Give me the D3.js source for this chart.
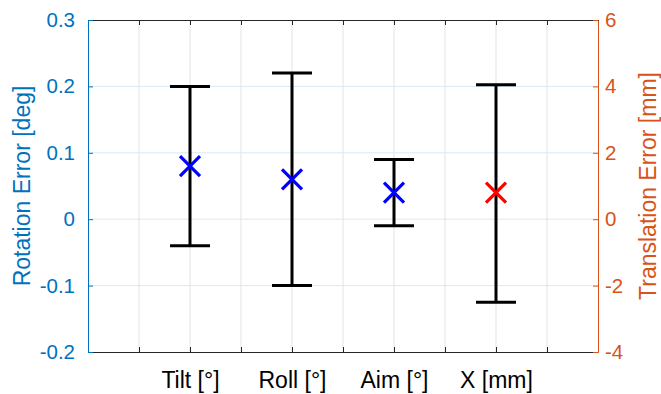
<!DOCTYPE html>
<html>
<head>
<meta charset="utf-8">
<script src="https://cdn.jsdelivr.net/npm/d3@7"></script>
<style>
  html, body { margin: 0; padding: 0; background: #fff; }
  svg { display: block; font-family: "Liberation Sans", Arial, sans-serif; }
</style>
</head>
<body>
<svg id="chart" width="661" height="394"></svg>
<script>
// Measurement categories and their x positions on the 0..10 axis
const categories = ["Tilt [°]", "Roll [°]", "Aim [°]", "X [mm]"];
const positions = [2, 4, 6, 8];
// Which y axis each category belongs to
const axisSide = ["left", "left", "left", "right"];
// Mean error and its lower / upper bounds
const means = [0.08, 0.06, 0.04, 0.8];
const lows = [-0.04, -0.10, -0.01, -2.5];
const highs = [0.20, 0.22, 0.09, 4.05];

// Tick values
const xTicks = [0, 1, 2, 3, 4, 5, 6, 7, 8, 9, 10];
const leftTicks = [-0.2, -0.1, 0, 0.1, 0.2, 0.3];
const rightTicks = [-4, -2, 0, 2, 4, 6];

const blueAxis = "#0072BD";
const orangeAxis = "#D95319";
const boxColor = "#262626";

const svg = d3.select("#chart");
const m = { left: 88, right: 63, top: 20, bottom: 42 };
const W = 661, H = 394;
const x0 = m.left, x1 = W - m.right, y0 = m.top, y1 = H - m.bottom;

const x = d3.scaleLinear().domain([0, 10]).range([x0, x1]);
const yL = d3.scaleLinear().domain([-0.2, 0.3]).range([y1, y0]);
const yR = d3.scaleLinear().domain([-4, 6]).range([y1, y0]);

// Plain hyphen-minus number formatting
const fmt = d => String(+d.toFixed(1));

// Grid lines
const grid = svg.append("g");
grid.selectAll("line.v").data(xTicks.slice(1, -1)).join("line")
  .attr("x1", d => x(d)).attr("x2", d => x(d))
  .attr("y1", y0).attr("y2", y1)
  .attr("stroke", "#dfe3e6").attr("stroke-width", 1);
grid.selectAll("line.h").data(leftTicks.slice(1, -1)).join("line")
  .attr("x1", x0).attr("x2", x1)
  .attr("y1", d => yL(d)).attr("y2", d => yL(d))
  .attr("stroke", "#dae9f3").attr("stroke-width", 1);

// Bottom axis: ticks inside, labels only at category positions
const labelAt = new Map(positions.map((p, i) => [p, categories[i]]));
const xAxis = d3.axisBottom(x).tickValues(xTicks)
  .tickSizeInner(-5).tickSizeOuter(0).tickPadding(14)
  .tickFormat(d => labelAt.get(d) || "");
const gx = svg.append("g").attr("transform", `translate(0,${y1})`).call(xAxis);
gx.select(".domain").attr("stroke", boxColor);
gx.selectAll(".tick line").attr("stroke", boxColor);
gx.selectAll(".tick text").attr("fill", "#000").attr("font-size", 23)
  .attr("font-family", "Liberation Sans, Arial, sans-serif")
  .attr("dy", "0.95em");

// Top box line with mirrored ticks
const xTop = d3.axisTop(x).tickValues(xTicks).tickSizeInner(-5).tickSizeOuter(0).tickFormat("");
const gt = svg.append("g").attr("transform", `translate(0,${y0})`).call(xTop);
gt.select(".domain").attr("stroke", boxColor);
gt.selectAll(".tick line").attr("stroke", boxColor);

// Left axis
const gl = svg.append("g").attr("transform", `translate(${x0},0)`)
  .call(d3.axisLeft(yL).tickValues(leftTicks).tickSizeInner(-5).tickSizeOuter(0).tickPadding(13)
    .tickFormat(fmt));
gl.select(".domain").attr("stroke", blueAxis);
gl.selectAll(".tick line").attr("stroke", blueAxis);
gl.selectAll(".tick text").attr("fill", blueAxis).attr("font-size", 20.5)
  .attr("font-family", "Liberation Sans, Arial, sans-serif");

// Right axis
const gr = svg.append("g").attr("transform", `translate(${x1},0)`)
  .call(d3.axisRight(yR).tickValues(rightTicks).tickSizeInner(-5).tickSizeOuter(0).tickPadding(7)
    .tickFormat(fmt));
gr.select(".domain").attr("stroke", orangeAxis);
gr.selectAll(".tick line").attr("stroke", orangeAxis);
gr.selectAll(".tick text").attr("fill", orangeAxis).attr("font-size", 20.5)
  .attr("font-family", "Liberation Sans, Arial, sans-serif");

// Axis titles
const yMid = (y0 + y1) / 2;
svg.append("text").attr("transform", `translate(22,${yMid}) rotate(-90)`)
  .attr("text-anchor", "middle").attr("dominant-baseline", "central")
  .attr("fill", blueAxis).attr("font-size", 23).text("Rotation Error [deg]");
svg.append("text").attr("transform", `translate(648,${yMid}) rotate(-90)`)
  .attr("text-anchor", "middle").attr("dominant-baseline", "central")
  .attr("fill", orangeAxis).attr("font-size", 23).text("Translation Error [mm]");

// Error bars and mean markers
const rows = categories.map((c, i) => ({
  pos: positions[i], mean: means[i], lo: lows[i], hi: highs[i],
  y: axisSide[i] === "left" ? yL : yR,
  color: axisSide[i] === "left" ? "#0000FF" : "#FF0000"
}));
const capHalf = 20, mk = 10;
const bars = svg.append("g").selectAll("g").data(rows).join("g");
bars.append("line")
  .attr("x1", d => x(d.pos)).attr("x2", d => x(d.pos))
  .attr("y1", d => d.y(d.lo)).attr("y2", d => d.y(d.hi))
  .attr("stroke", "#000").attr("stroke-width", 3);
bars.append("line")
  .attr("x1", d => x(d.pos) - capHalf).attr("x2", d => x(d.pos) + capHalf)
  .attr("y1", d => d.y(d.hi)).attr("y2", d => d.y(d.hi))
  .attr("stroke", "#000").attr("stroke-width", 3);
bars.append("line")
  .attr("x1", d => x(d.pos) - capHalf).attr("x2", d => x(d.pos) + capHalf)
  .attr("y1", d => d.y(d.lo)).attr("y2", d => d.y(d.lo))
  .attr("stroke", "#000").attr("stroke-width", 3);
bars.append("path")
  .attr("d", d => {
    const cx = x(d.pos), cy = d.y(d.mean);
    return `M${cx - mk},${cy - mk}L${cx + mk},${cy + mk}M${cx - mk},${cy + mk}L${cx + mk},${cy - mk}`;
  })
  .attr("stroke", d => d.color).attr("stroke-width", 3.2).attr("fill", "none");
</script>
</body>
</html>
